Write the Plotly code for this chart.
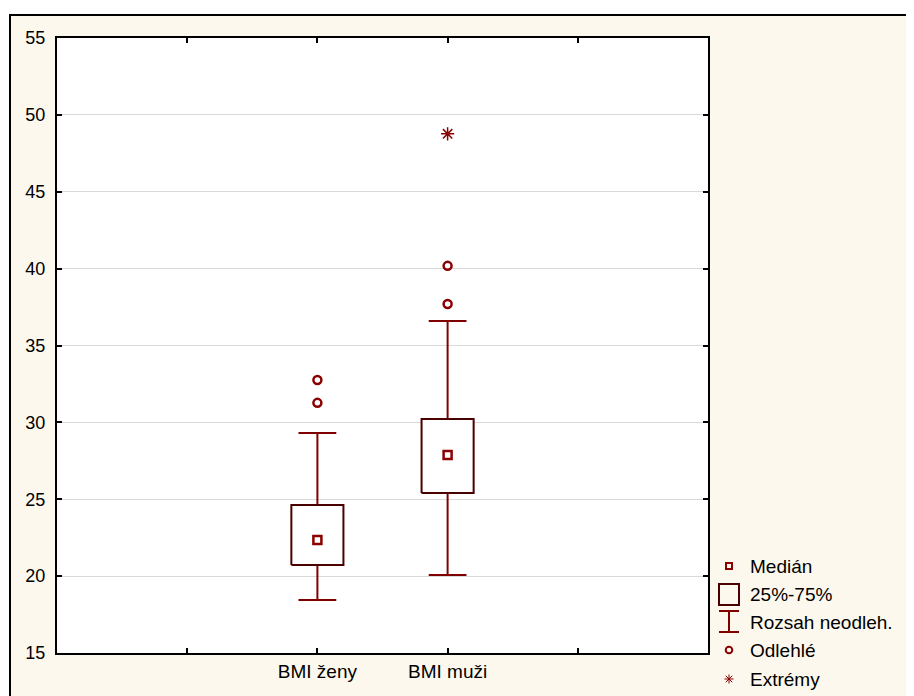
import plotly.graph_objects as go

# ---- data ----
categories = ["BMI ženy", "BMI muži"]
cat_pos = [2, 3]
medians = [22.35, 27.88]
q1 = [20.73, 25.41]
q3 = [24.63, 30.22]
whisker_lo = [18.45, 20.07]
whisker_hi = [29.31, 36.60]
outlier_cat = [0, 0, 1, 1]
outlier_val = [32.76, 31.27, 37.70, 40.18]
extreme_cat = [1]
extreme_val = [48.77]
legend_labels = ["Medián", "25%-75%", "Rozsah neodleh.", "Odlehlé", "Extrémy"]

# ---- style ----
W, H = 914, 696
OFF = 8  # page offset of the plot div
L, R, T, B = 57 - OFF, 708 - OFF, 38 - OFF, 653 - OFF
WHISK = "#800000"
BOXC = "#4a0000"
PTC = "#8b0000"
CREAM = "#fdf8ed"
FONT = "Liberation Sans, Arial, sans-serif"
half_w = 0.2

fig = go.Figure()

# whiskers (two segments per box so the box interior stays clean)
wx, wy = [], []
for p, lo, a, b, hi in zip(cat_pos, whisker_lo, q1, q3, whisker_hi):
    wx += [p, p, None, p, p, None]
    wy += [lo, a, None, b, hi, None]
fig.add_trace(go.Scatter(x=wx, y=wy, mode="lines",
                         line=dict(color=WHISK, width=2), hoverinfo="skip"))
# whisker caps
fig.add_trace(go.Scatter(x=cat_pos + cat_pos, y=whisker_lo + whisker_hi, mode="markers",
                         marker=dict(symbol="line-ew-open", size=27, color=WHISK,
                                     line=dict(color=WHISK, width=2)),
                         hoverinfo="skip"))
# boxes
bx, by = [], []
for p, a, b in zip(cat_pos, q1, q3):
    bx += [p - half_w, p + half_w, p + half_w, p - half_w, p - half_w, None]
    by += [a, a, b, b, a, None]
fig.add_trace(go.Scatter(x=bx, y=by, mode="lines", fill="toself",
                         fillcolor="white", line=dict(color=BOXC, width=2),
                         hoverinfo="skip"))
# medians
fig.add_trace(go.Scatter(x=cat_pos, y=medians, mode="markers",
                         marker=dict(symbol="square-open", size=8, color=PTC,
                                     line=dict(color=PTC, width=2.5))))
# outliers
fig.add_trace(go.Scatter(x=[cat_pos[i] for i in outlier_cat], y=outlier_val, mode="markers",
                         marker=dict(symbol="circle-open", size=8, color=PTC,
                                     line=dict(color=PTC, width=2.5))))
# extremes
fig.add_trace(go.Scatter(x=[cat_pos[i] for i in extreme_cat], y=extreme_val, mode="markers",
                         marker=dict(symbol="asterisk-open", size=11, color=PTC,
                                     line=dict(color=PTC, width=1.5))))


def px(x):
    return (x - OFF - L) / (R - L)


def py(y):
    return (B - (y - OFF)) / (B - T)


shapes = [
    # cream frame
    dict(type="rect", xref="paper", yref="paper", x0=px(10), x1=px(930), y0=py(15), y1=py(710),
         fillcolor=CREAM, line=dict(color="black", width=2), layer="below"),
    # white plot area
    dict(type="rect", xref="paper", yref="paper", x0=0, x1=1, y0=0, y1=1,
         fillcolor="white", line=dict(width=0), layer="below"),
]

# ---- legend (drawn manually) ----
lx = 729
rows = [566, 594, 622, 650, 679]
# median square
shapes.append(dict(type="rect", xref="paper", yref="paper", x0=px(lx - 3), x1=px(lx + 3),
                   y0=py(rows[0] + 3), y1=py(rows[0] - 3), line=dict(color=PTC, width=2)))
# box
shapes.append(dict(type="rect", xref="paper", yref="paper", x0=px(lx - 10), x1=px(lx + 10),
                   y0=py(rows[1] + 11), y1=py(rows[1] - 10), line=dict(color=BOXC, width=2)))
# I-beam
for (x0, y0, x1, y1) in [(lx, rows[2] - 11, lx, rows[2] + 10),
                         (lx - 10, rows[2] - 11, lx + 10, rows[2] - 11),
                         (lx - 10, rows[2] + 10, lx + 10, rows[2] + 10)]:
    shapes.append(dict(type="line", xref="paper", yref="paper", x0=px(x0), x1=px(x1),
                       y0=py(y0), y1=py(y1), line=dict(color=WHISK, width=2)))
# circle
shapes.append(dict(type="circle", xref="paper", yref="paper", x0=px(lx - 3.3), x1=px(lx + 3.3),
                   y0=py(rows[3] + 3.3), y1=py(rows[3] - 3.3), line=dict(color=PTC, width=2)))
# asterisk
r = 4.5
for (dx, dy) in [(0, r), (r, 0), (r * 0.72, r * 0.72), (r * 0.72, -r * 0.72)]:
    shapes.append(dict(type="line", xref="paper", yref="paper",
                       x0=px(lx - dx), x1=px(lx + dx), y0=py(rows[4] - dy), y1=py(rows[4] + dy),
                       line=dict(color=PTC, width=1)))

annotations = [dict(text=t, xref="paper", yref="paper", x=px(748), y=py(yy),
                    xanchor="left", yanchor="middle", showarrow=False,
                    font=dict(family=FONT, size=19, color="black"))
               for t, yy in zip(legend_labels, rows)]

fig.update_layout(
    width=W, height=H,
    margin=dict(l=L, r=W - R, t=T, b=H - B, pad=0),
    paper_bgcolor="white", plot_bgcolor="white",
    showlegend=False,
    shapes=shapes, annotations=annotations,
    font=dict(family=FONT, color="black"),
    xaxis=dict(range=[0, 5], tickvals=[1, 2, 3, 4], ticktext=[""] + categories + [""],
               ticks="inside", ticklen=5, tickwidth=2, tickcolor="black",
               showline=True, linecolor="black", linewidth=2, mirror="ticks",
               showgrid=False, zeroline=False, tickfont=dict(size=19, family=FONT)),
    yaxis=dict(range=[15, 55], dtick=5, tick0=15,
               ticks="inside", ticklen=5, tickwidth=2, tickcolor="black",
               showline=True, linecolor="black", linewidth=2, mirror="ticks",
               showgrid=True, gridcolor="#d9d9d9", gridwidth=1, zeroline=False,
               ticklabelstandoff=6,
               tickfont=dict(size=18, family=FONT)),
)

fig.write_html("out.html")
